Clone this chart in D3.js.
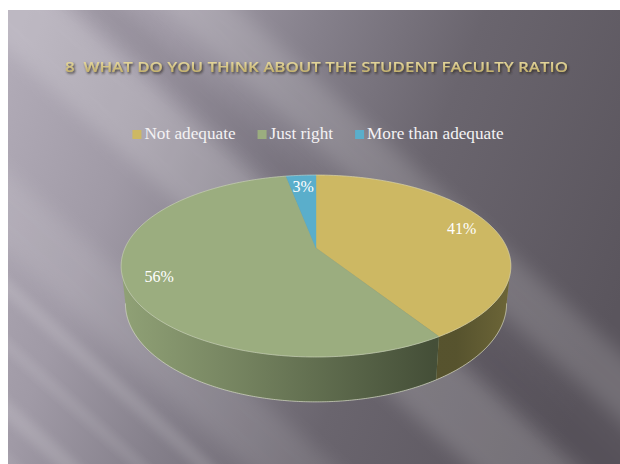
<!DOCTYPE html>
<html>
<head>
<meta charset="utf-8">
<script src="https://cdn.jsdelivr.net/npm/d3@7"></script>
<style>
  html, body { margin: 0; padding: 0; background: #ffffff; }
  svg { display: block; }
</style>
</head>
<body>
<svg id="chart" width="620" height="464"></svg>
<script>
// Survey question 8: opinion on the student / faculty ratio
const title = "8  WHAT DO YOU THINK ABOUT THE STUDENT FACULTY RATIO";
const categories = ["Not adequate", "Just right", "More than adequate"];
const shares = [41, 56, 3];
const labels = ["41%", "56%", "3%"];
const colors = ["#cdb863", "#9bad7f", "#5aaecb"];

const svg = d3.select("#chart");
const W = 620, H = 464;
const defs = svg.append("defs");

// ---------- slide background ----------
const bgX = 8, bgY = 10;
const bg = defs.append("linearGradient").attr("id", "bg")
  .attr("gradientUnits", "userSpaceOnUse")
  .attr("x1", 8).attr("y1", 60).attr("x2", 620).attr("y2", 300);
[[0, "#b1abb7"], [0.22, "#a09aa6"], [0.42, "#85808b"], [0.65, "#6a656e"], [1, "#5a555d"]]
  .forEach(([o, c]) => bg.append("stop").attr("offset", o).attr("stop-color", c));

defs.append("filter").attr("id", "soft").attr("x", "-50%").attr("y", "-50%")
  .attr("width", "200%").attr("height", "200%")
  .append("feGaussianBlur").attr("stdDeviation", 9);
defs.append("filter").attr("id", "softer").attr("x", "-50%").attr("y", "-50%")
  .attr("width", "200%").attr("height", "200%")
  .append("feGaussianBlur").attr("stdDeviation", 4);

defs.append("clipPath").attr("id", "slide")
  .append("rect").attr("x", bgX).attr("y", bgY).attr("width", W - bgX).attr("height", H - bgY);

const back = svg.append("g").attr("clip-path", "url(#slide)");
back.append("rect").attr("x", bgX).attr("y", bgY).attr("width", W - bgX).attr("height", H - bgY)
  .attr("fill", "url(#bg)");

// diagonal light streaks running from upper left to lower right
const streaks = back.append("g").attr("transform", "translate(8,10) rotate(42)");
const bands = [
  { y: -40, h: 70, o: 0.16, f: "soft" },
  { y: -155, h: 50, o: 0.15, f: "soft" },
  { y: -80, h: 30, o: -0.12, f: "soft" },
  { y: 120, h: 60, o: 0.10, f: "soft" },
  { y: 200, h: 14, o: 0.12, f: "softer" },
  { y: 245, h: 10, o: 0.10, f: "softer" },
  { y: 290, h: 16, o: 0.13, f: "softer" },
  { y: 330, h: 10, o: 0.08, f: "softer" }
];
bands.forEach(b => {
  streaks.append("rect")
    .attr("x", -200).attr("y", b.y).attr("width", 1000).attr("height", b.h)
    .attr("fill", b.o > 0 ? "#ffffff" : "#3a3540")
    .attr("opacity", Math.abs(b.o))
    .attr("filter", `url(#${b.f})`);
});

// ---------- title ----------
defs.append("filter").attr("id", "titleShadow").attr("x", "-5%").attr("y", "-50%")
  .attr("width", "110%").attr("height", "200%")
  .append("feDropShadow").attr("dx", 1.2).attr("dy", 1.6).attr("stdDeviation", 0.9)
  .attr("flood-color", "#2b2622").attr("flood-opacity", 0.85);
const tg = defs.append("linearGradient").attr("id", "gold").attr("x1", 0).attr("y1", 0).attr("x2", 0).attr("y2", 1);
tg.append("stop").attr("offset", 0).attr("stop-color", "#f1e5ad");
tg.append("stop").attr("offset", 1).attr("stop-color", "#b7a25a");

svg.append("text")
  .attr("x", 316.5).attr("y", 72)
  .attr("text-anchor", "middle")
  .attr("font-family", "'Open Sans', 'DejaVu Sans', sans-serif")
  .attr("font-size", 13.5)
  .attr("font-weight", 600)
  .attr("textLength", 503)
  .attr("lengthAdjust", "spacingAndGlyphs")
  .attr("fill", "url(#gold)")
  .attr("filter", "url(#titleShadow)")
  .style("white-space", "pre")
  .text(title);

// ---------- legend ----------
const legend = svg.append("g");
const legendFont = "'Liberation Serif', 'Times New Roman', serif";
let lx = 0;
categories.forEach((c, i) => {
  const g = legend.append("g");
  g.append("rect").attr("x", 0).attr("y", -9).attr("width", 9).attr("height", 9).attr("fill", colors[i]);
  const t = g.append("text").attr("x", 12).attr("y", 0)
    .attr("font-family", legendFont).attr("font-size", 17.2)
    .attr("fill", "#f4f2f4").text(c);
  const w = 12 + t.node().getComputedTextLength();
  g.attr("transform", `translate(${lx},0)`);
  lx += w + 22;
});
const legendWidth = lx - 22;
legend.attr("transform", `translate(${318 - legendWidth / 2},139)`);

// ---------- 3D pie ----------
const cx = 316, cy = 248;   // projected centre of the pie
const rx = 191, ry = 87.4;  // radii of the top face
const persp = 0.198;        // perspective foreshortening
const depth = 36;           // thickness of the pie
const baseScale = 0.978;    // bottom rim slightly narrower (further away)

function project(a, r, bottom) {
  const u = r * Math.sin(a), v = -r * Math.cos(a);
  const w = 1 - persp * v;
  const s = bottom ? baseScale : 1;
  return [cx + rx * u * s / w, cy + (ry * v + (bottom ? depth : 0)) / w];
}
function arcPoints(a0, a1, r, bottom) {
  const n = Math.max(2, Math.ceil(Math.abs(a1 - a0) / 0.01));
  return d3.range(n + 1).map(i => project(a0 + (a1 - a0) * i / n, r, bottom));
}

const pie = d3.pie().sort(null).startAngle(0).endAngle(2 * Math.PI);
const arcs = pie(shares);

// side wall is visible between the two silhouette angles
const aRight = Math.acos(-persp), aLeft = 2 * Math.PI - aRight;

const sideShade = defs.append("linearGradient").attr("id", "sideShade")
  .attr("gradientUnits", "userSpaceOnUse")
  .attr("x1", 121).attr("y1", 0).attr("x2", 511).attr("y2", 0);
[[0, 0.08], [0.3, 0.28], [0.6, 0.5], [0.8, 0.64], [0.86, 0.64], [1, 0.52]]
  .forEach(([o, op]) => sideShade.append("stop").attr("offset", o)
    .attr("stop-color", "#141a10").attr("stop-opacity", op));

const line = d3.line();
const pieG = svg.append("g");

arcs.forEach((d, i) => {
  const s = Math.max(d.startAngle, aRight), e = Math.min(d.endAngle, aLeft);
  if (e <= s) return;
  const pts = arcPoints(s, e, 1, false).concat(arcPoints(e, s, 1, true));
  const p = line(pts) + "Z";
  pieG.append("path").attr("d", p).attr("fill", colors[i]);
  pieG.append("path").attr("d", p).attr("fill", "url(#sideShade)");
});

// light rim along the bottom edge
pieG.append("path")
  .attr("d", line(arcPoints(aRight, aLeft, 1, true)))
  .attr("fill", "none").attr("stroke", "#d9dccb").attr("stroke-opacity", 0.75).attr("stroke-width", 0.9);

// top faces
arcs.forEach((d, i) => {
  const pts = [project(0, 0, false)].concat(arcPoints(d.startAngle, d.endAngle, 1, false));
  pieG.append("path").attr("d", line(pts) + "Z").attr("fill", colors[i])
    .attr("stroke", colors[i]).attr("stroke-width", 0.4);
});
pieG.append("path")
  .attr("d", line(arcPoints(0, 2 * Math.PI, 1, false)) + "Z")
  .attr("fill", "none").attr("stroke", "#e4e6d6").attr("stroke-opacity", 0.55).attr("stroke-width", 0.8);

// percentage labels
arcs.forEach((d, i) => {
  const a = (d.startAngle + d.endAngle) / 2;
  const [x, y] = project(a, 0.83, false);
  pieG.append("text")
    .attr("x", x).attr("y", y).attr("dy", "0.35em")
    .attr("text-anchor", "middle")
    .attr("font-family", legendFont).attr("font-size", 16)
    .attr("fill", "#ffffff")
    .text(labels[i]);
});
</script>
</body>
</html>
